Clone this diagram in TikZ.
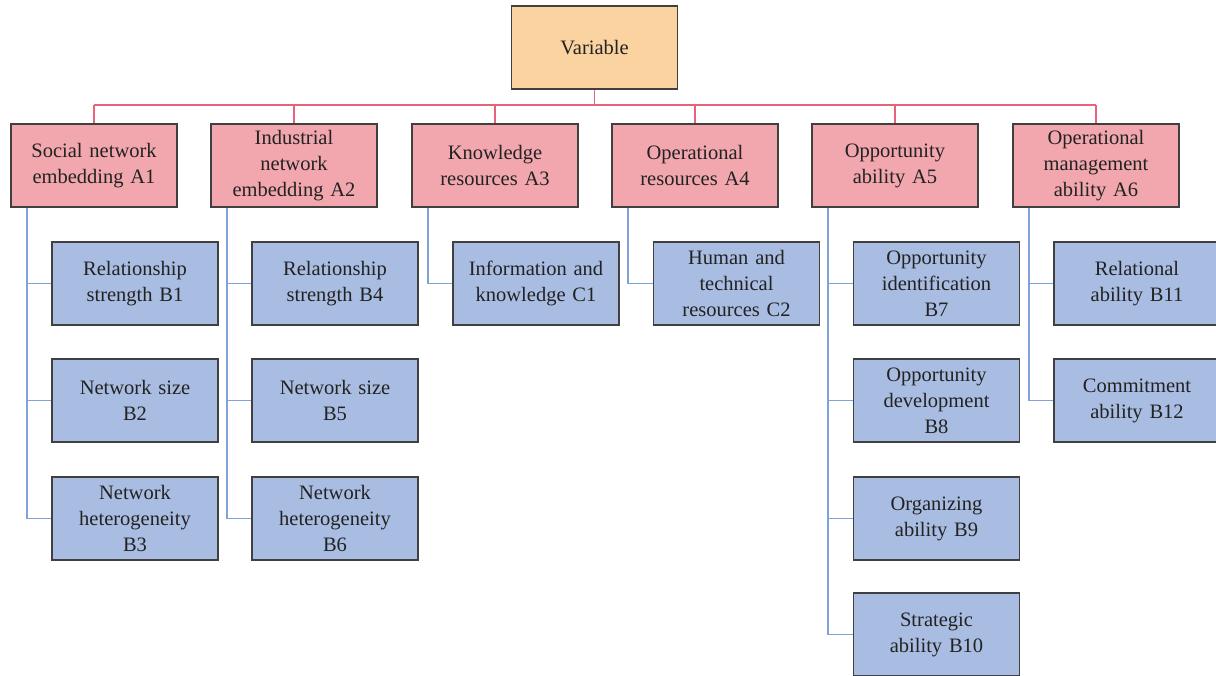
\documentclass[tikz,border=0pt]{standalone}
\usepackage{fontspec}
\setmainfont{Liberation Serif}
\usetikzlibrary{calc}
\definecolor{varfill}{HTML}{FBD3A0}
\definecolor{afill}{HTML}{F2A7AE}
\definecolor{bfill}{HTML}{A9BDE2}
\definecolor{pinkline}{HTML}{E8627A}
\definecolor{blueline}{HTML}{7FA3D6}
\definecolor{boxborder}{HTML}{404040}
\definecolor{txt}{HTML}{222222}
\tikzset{
  box/.style={draw=boxborder, line width=1.6pt, minimum width=166pt, minimum height=83pt,
    inner sep=2pt, align=center, text width=162pt, text=txt,
    font=\fontsize{20.5}{26}\selectfont},
  varbox/.style={box, fill=varfill},
  abox/.style={box, fill=afill},
  bbox/.style={box, fill=bfill},
  pinkconn/.style={draw=pinkline, line width=1.7pt},
  blueconn/.style={draw=blueline, line width=1.7pt},
}
\begin{document}
\begin{tikzpicture}[x=1pt,y=1pt]
\useasboundingbox (0,0) rectangle (1216,-675);
\clip (0,0) rectangle (1216,-675);
% top
\node[varbox] (v) at (594.5,-47.5) {Variable};
% level A
\node[abox] (a1) at (94,-165.5) {Social network\\embedding A1};
\node[abox] (a2) at (294,-165.5) {Industrial\\network\\embedding A2};
\node[abox] (a3) at (495,-165.5) {Knowledge\\resources A3};
\node[abox] (a4) at (695,-165.5) {Operational\\resources A4};
\node[abox] (a5) at (895,-165.5) {Opportunity\\ability A5};
\node[abox] (a6) at (1096,-165.5) {Operational\\management\\ability A6};
% level B
\node[bbox] (b1) at (135,-283.5) {Relationship\\strength B1};
\node[bbox] (b2) at (135,-400.5) {Network size\\B2};
\node[bbox] (b3) at (135,-518.5) {Network\\heterogeneity\\B3};
\node[bbox] (b4) at (335,-283.5) {Relationship\\strength B4};
\node[bbox] (b5) at (335,-400.5) {Network size\\B5};
\node[bbox] (b6) at (335,-518.5) {Network\\heterogeneity\\B6};
\node[bbox] (c1) at (536,-283.5) {Information and\\knowledge C1};
\node[bbox] (c2) at (736.5,-283.5) {Human and\\technical\\resources C2};
\node[bbox] (b7) at (936.5,-283.5) {Opportunity\\identification\\B7};
\node[bbox] (b8) at (936.5,-400.5) {Opportunity\\development\\B8};
\node[bbox] (b9) at (936.5,-518.5) {Organizing\\ability B9};
\node[bbox] (b10) at (936.5,-634.5) {Strategic\\ability B10};
\node[bbox] (b11) at (1137,-283.5) {Relational\\ability B11};
\node[bbox] (b12) at (1137,-400.5) {Commitment\\ability B12};
% pink connectors
\coordinate (bus) at (0,-105);
\draw[pinkconn] (v.south) -- (v.south |- bus);
\draw[pinkconn] (a1.north |- bus) -- (a6.north |- bus);
\foreach \n in {a1,a2,a3,a4,a5,a6}{
  \draw[pinkconn] (\n.north) -- (\n.north |- bus);
}
% blue connectors
\foreach \n in {a1,a2,a3,a4,a5,a6}{
  \coordinate (t\n) at ($(\n.south west)+(17,0)$);
}
\draw[blueconn] (ta1) |- (b3.west);
\draw[blueconn] (ta1) |- (b2.west);
\draw[blueconn] (ta1) |- (b1.west);
\draw[blueconn] (ta2) |- (b6.west);
\draw[blueconn] (ta2) |- (b5.west);
\draw[blueconn] (ta2) |- (b4.west);
\draw[blueconn] (ta3) |- (c1.west);
\draw[blueconn] (ta4) |- (c2.west);
\draw[blueconn] (ta5) |- (b10.west);
\draw[blueconn] (ta5) |- (b9.west);
\draw[blueconn] (ta5) |- (b8.west);
\draw[blueconn] (ta5) |- (b7.west);
\draw[blueconn] (ta6) |- (b12.west);
\draw[blueconn] (ta6) |- (b11.west);
\end{tikzpicture}
\end{document}
